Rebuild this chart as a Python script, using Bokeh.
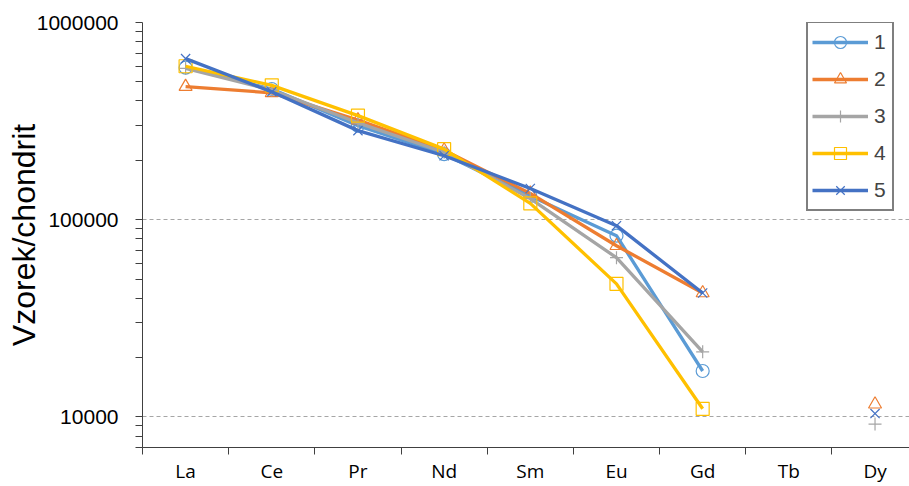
import math
from bokeh.plotting import figure
from bokeh.models import FixedTicker, Range1d, Legend, LegendItem, PrintfTickFormatter
from bokeh.embed import file_html
from bokeh.resources import INLINE

nan = float("nan")
elements = ["La", "Ce", "Pr", "Nd", "Sm", "Eu", "Gd", "Tb", "Dy"]
s1 = [590000, 460000, 300000, 215000, 132000, 83000, 17100, nan, nan]
s2 = [473000, 440000, 320000, 225000, 136000, 73800, 42500, nan, 11600]
s3 = [585000, 455000, 310000, 220000, 128000, 64200, 21400, nan, 9200]
s4 = [600000, 480000, 337000, 228000, 121000, 47300, 11000, nan, nan]
s5 = [656000, 445000, 283000, 211000, 144000, 93300, 42500, nan, 10400]
series = [s1, s2, s3, s4, s5]
names = ["1", "2", "3", "4", "5"]
colors = ["#5B9BD5", "#ED7D31", "#A5A5A5", "#FFC000", "#4472C4"]
markers = ["circle", "triangle", "cross", "square", "x"]
y_major = [10000, 100000, 1000000]
y_title = "Vzorek/chondrit"

xs = [i + 0.5 for i in range(len(elements))]

p = figure(width=909, height=486, y_axis_type="log",
           x_range=Range1d(0, 8.9), y_range=Range1d(7000, 1000000),
           output_backend="svg", toolbar_location=None,
           min_border_left=142, min_border_right=0, min_border_top=22, min_border_bottom=39)
p.outline_line_color = None
p.xgrid.grid_line_color = None

items = []
for vals, name, col, mk in zip(series, names, colors, markers):
    lr = p.line(xs, vals, line_color=col, line_width=3.3)
    sr = p.scatter(xs, vals, marker=mk, size=13, line_color=col, fill_color=None, line_width=1.2)
    items.append(LegendItem(label=name, renderers=[lr, sr]))

# x axis: category labels at centers, ticks at boundaries
xa = p.xaxis[0]
xa.ticker = FixedTicker(ticks=xs, minor_ticks=list(range(len(elements))))
xa.major_label_overrides = {x: e for x, e in zip(xs, elements)}
xa.major_tick_line_color = None
xa.major_tick_out = 7
xa.major_tick_in = 0
xa.minor_tick_out = 7
xa.minor_tick_in = 0
xa.minor_tick_line_color = "#404040"
xa.axis_line_color = "#404040"
xa.major_label_text_font = "Open Sans"
xa.major_label_text_font_size = "19px"
xa.major_label_text_color = "#000000"
xa.major_label_standoff = 3

# y axis
ya = p.yaxis[0]
minor = [m * 10 ** e for e in (3, 4, 5) for m in range(2, 10) if 7000 <= m * 10 ** e <= 1000000]
ya.ticker = FixedTicker(ticks=y_major, minor_ticks=minor)
ya.formatter = PrintfTickFormatter(format="%d")
ya.major_tick_out = 7
ya.major_tick_in = 0
ya.minor_tick_out = 7
ya.minor_tick_in = 0
ya.major_tick_line_color = "#404040"
ya.minor_tick_line_color = "#404040"
ya.axis_line_color = "#404040"
ya.major_label_text_font = "Liberation Sans"
ya.major_label_text_font_size = "21px"
ya.major_label_text_color = "#000000"
ya.major_label_standoff = 17
ya.axis_label = y_title
ya.axis_label_text_font = "Liberation Sans"
ya.axis_label_text_font_size = "32px"
ya.axis_label_text_font_style = "normal"
ya.axis_label_text_color = "#000000"
ya.axis_label_standoff = -8

p.ygrid.grid_line_color = "#A6A6A6"
p.ygrid.grid_line_dash = "4 3"
p.ygrid.grid_line_width = 1.2

legend = Legend(items=items, location=(664, 236))
legend.border_line_color = "#000000"
legend.border_line_width = 2
legend.background_fill_color = "white"
legend.background_fill_alpha = 1
legend.label_text_font = "Liberation Sans"
legend.label_text_font_size = "21px"
legend.glyph_width = 56
legend.glyph_height = 30
legend.label_height = 30
legend.label_width = 14
legend.label_standoff = 6
legend.spacing = 7
legend.padding = 4
legend.margin = 0
p.add_layout(legend)

open("out.html", "w").write(file_html(p, INLINE))
